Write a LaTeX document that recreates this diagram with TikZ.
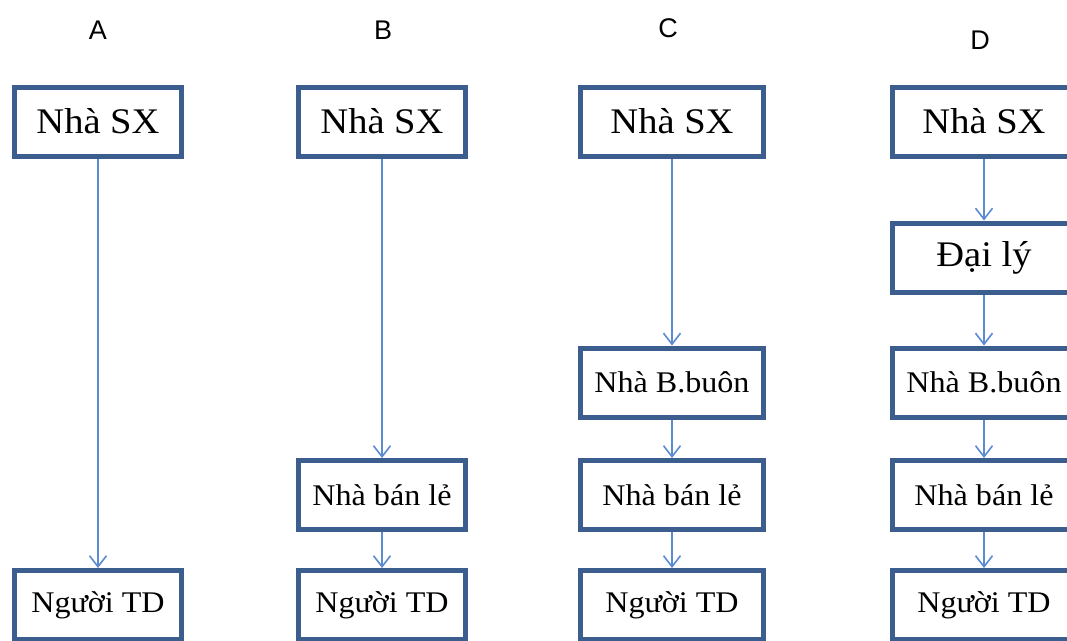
\documentclass[tikz,border=0pt]{standalone}
\usepackage{fontspec}
\setmainfont{Liberation Serif}
\newfontfamily\boxfont[FakeStretch=1.07]{Liberation Serif}
\newfontfamily\labfont{Liberation Sans}
\usetikzlibrary{arrows.meta}
\definecolor{boxline}{HTML}{3B5E8E}
\definecolor{arrowline}{HTML}{5B8BD0}
\tikzset{
  bigbox/.style={draw=boxline, line width=5pt, fill=white, minimum height=69pt, inner sep=0pt, font=\boxfont\fontsize{36}{40}\selectfont},
  smallbox/.style={draw=boxline, line width=5pt, fill=white, minimum height=69pt, inner sep=0pt, font=\boxfont\fontsize{30}{34}\selectfont},
  narrow/.style={minimum width=167pt},
  wide/.style={minimum width=183pt},
  collabel/.style={font=\labfont\fontsize{27}{30}\selectfont, inner sep=0pt},
  conn/.style={draw=arrowline, line width=1.6pt, -{Straight Barb[length=11pt,width=17pt,line width=1.6pt]}}
}
\begin{document}
\begin{tikzpicture}[x=1pt,y=-1pt]
\useasboundingbox (0,0) rectangle (1067,640);
\clip (0,0) rectangle (1067,640);
% column labels
\node[collabel] (lA) at (98,30) {A};
\node[collabel] (lB) at (383,30) {B};
\node[collabel] (lC) at (668,28) {C};
\node[collabel] (lD) at (980,40) {D};
% column A
\node[bigbox,narrow] (a1) at (98,121.5) {Nhà SX};
\node[smallbox,narrow] (a2) at (98,605) {Người TD};
% column B
\node[bigbox,narrow] (b1) at (382,121.5) {Nhà SX};
\node[smallbox,narrow] (b2) at (382,495) {Nhà bán lẻ};
\node[smallbox,narrow] (b3) at (382,605) {Người TD};
% column C
\node[bigbox,wide] (c1) at (672,121.5) {Nhà SX};
\node[smallbox,wide] (c2) at (672,382.5) {Nhà B.buôn};
\node[smallbox,wide] (c3) at (672,495) {Nhà bán lẻ};
\node[smallbox,wide] (c4) at (672,605) {Người TD};
% column D
\node[bigbox,wide] (d1) at (984,121.5) {Nhà SX};
\node[bigbox,wide] (d2) at (984,257.5) {Đại lý};
\node[smallbox,wide] (d3) at (984,382.5) {Nhà B.buôn};
\node[smallbox,wide] (d4) at (984,495) {Nhà bán lẻ};
\node[smallbox,wide] (d5) at (984,605) {Người TD};
% connectors
\draw[conn] (a1.south) -- (a2.north);
\draw[conn] (b1.south) -- (b2.north);
\draw[conn] (b2.south) -- (b3.north);
\draw[conn] (c1.south) -- (c2.north);
\draw[conn] (c2.south) -- (c3.north);
\draw[conn] (c3.south) -- (c4.north);
\draw[conn] (d1.south) -- (d2.north);
\draw[conn] (d2.south) -- (d3.north);
\draw[conn] (d3.south) -- (d4.north);
\draw[conn] (d4.south) -- (d5.north);
\end{tikzpicture}
\end{document}
